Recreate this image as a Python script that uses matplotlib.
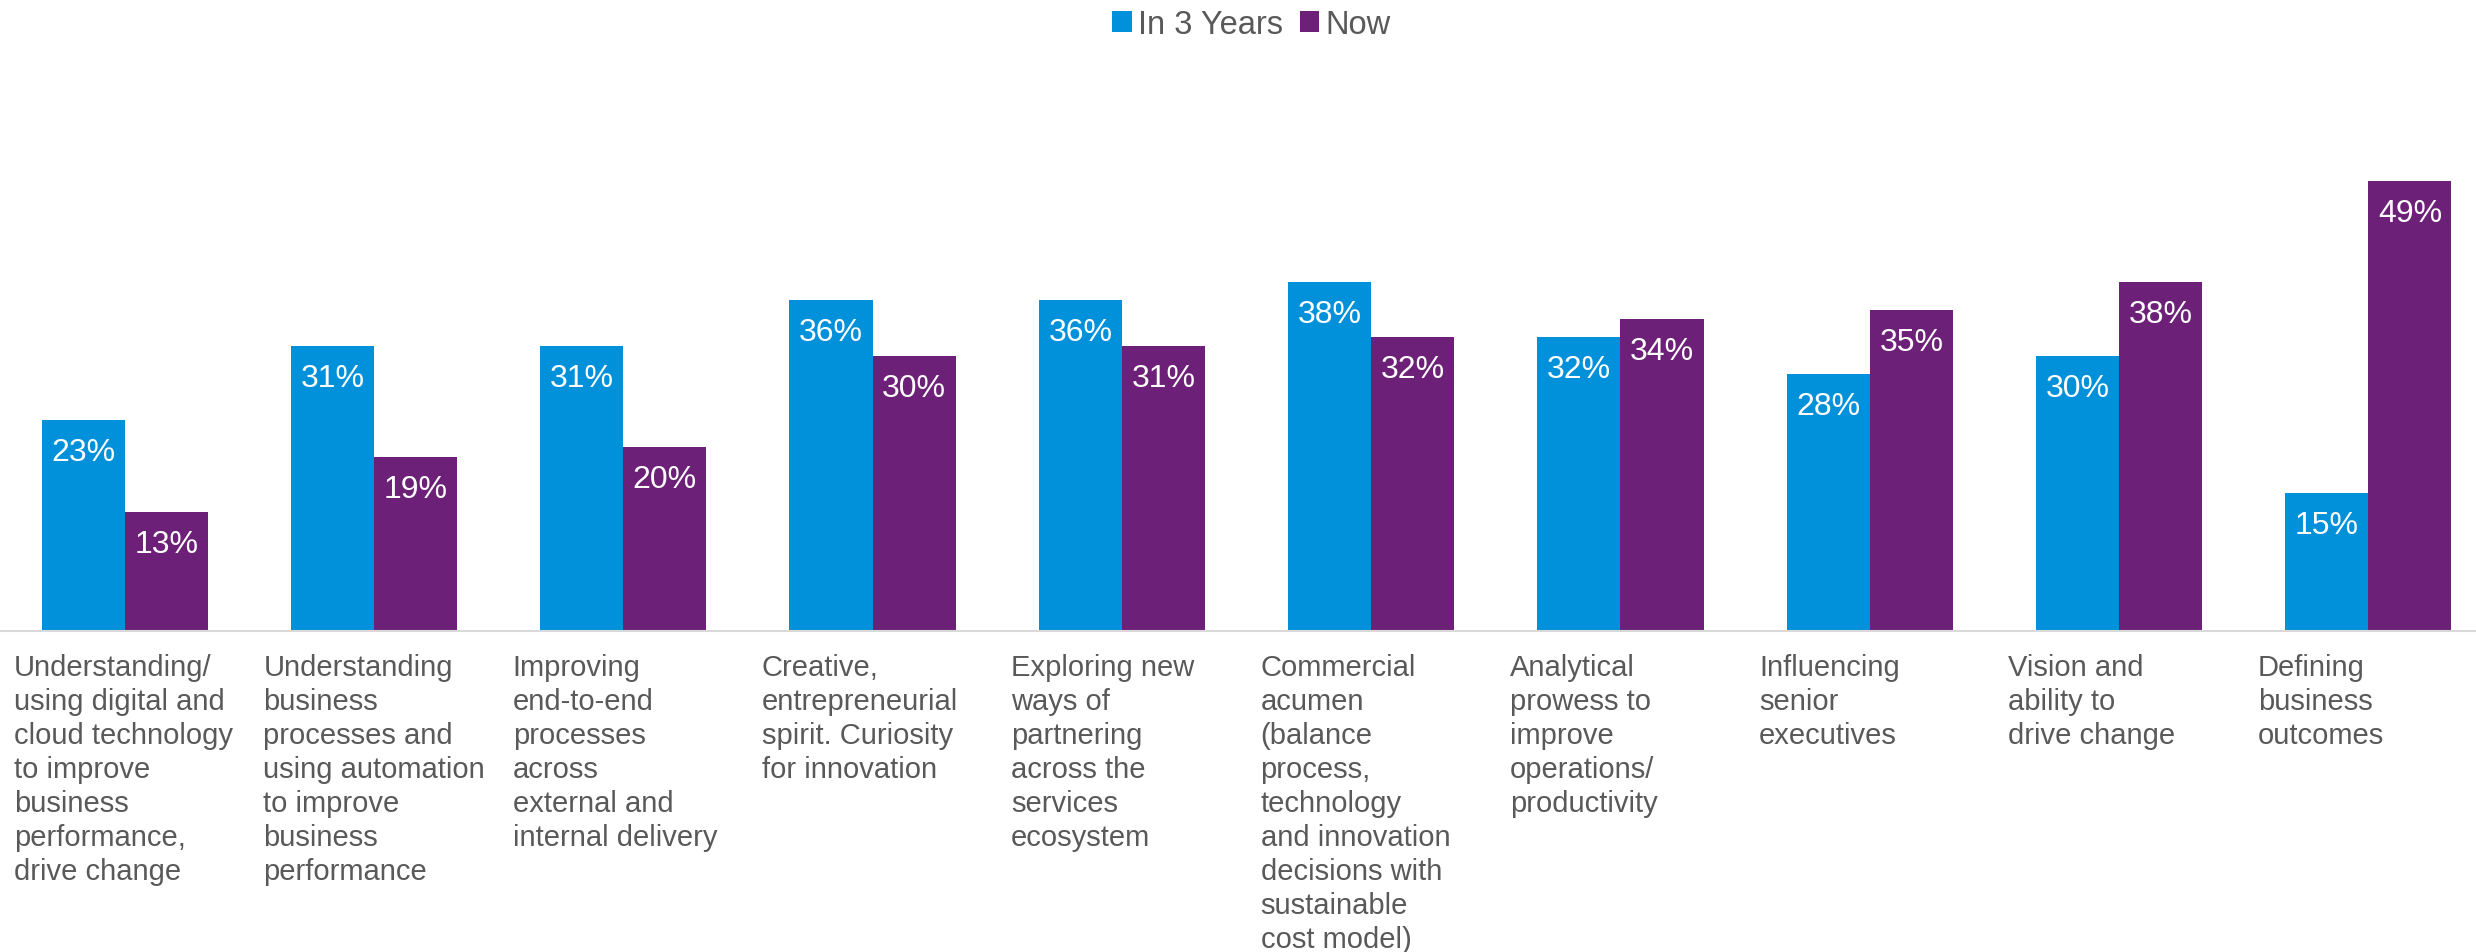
import matplotlib.pyplot as plt
import numpy as np

plt.rcParams['font.family'] = ['Liberation Sans', 'DejaVu Sans']

categories = [
    "Understanding/\nusing digital and\ncloud technology\nto improve\nbusiness\nperformance,\ndrive change",
    "Understanding\nbusiness\nprocesses and\nusing automation\nto improve\nbusiness\nperformance",
    "Improving\nend-to-end\nprocesses\nacross\nexternal and\ninternal delivery",
    "Creative,\nentrepreneurial\nspirit. Curiosity\nfor innovation",
    "Exploring new\nways of\npartnering\nacross the\nservices\necosystem",
    "Commercial\nacumen\n(balance\nprocess,\ntechnology\nand innovation\ndecisions with\nsustainable\ncost model)",
    "Analytical\nprowess to\nimprove\noperations/\nproductivity",
    "Influencing\nsenior\nexecutives",
    "Vision and\nability to\ndrive change",
    "Defining\nbusiness\noutcomes",
]
in_3_years = [23, 31, 31, 36, 36, 38, 32, 28, 30, 15]
now = [13, 19, 20, 30, 31, 32, 34, 35, 38, 49]
series_names = ["In 3 Years", "Now"]

BLUE = "#0091DA"
PURPLE = "#6D2077"
TEXT = "#595959"

W, H = 2476, 953
fig = plt.figure(figsize=(W / 100, H / 100), dpi=100)
# axes geometry in pixels
ax = fig.add_axes([0, 321 / H, 2493 / W, 505 / H])

x = np.arange(len(categories))
bw = 1 / 3
b1 = ax.bar(x - bw / 2, in_3_years, bw, color=BLUE, label=series_names[0])
b2 = ax.bar(x + bw / 2, now, bw, color=PURPLE, label=series_names[1])

ax.set_xlim(-0.5, len(categories) - 0.5)
ax.set_ylim(0, 55)

for bars, vals in ((b1, in_3_years), (b2, now)):
    for rect, v in zip(bars, vals):
        ax.annotate(f"{v}%", xy=(rect.get_x() + rect.get_width() / 2, v),
                    xytext=(0, -32), textcoords='offset pixels',
                    ha='center', va='center', color='white', fontsize=23)

for i, lab in enumerate(categories):
    ax.annotate(lab, xy=(i - 0.5, 0), xycoords=('data', 'axes fraction'),
                xytext=(14, -22), textcoords='offset pixels',
                ha='left', va='top', color=TEXT, fontsize=21,
                linespacing=1.27)

for s in ['top', 'right', 'left']:
    ax.spines[s].set_visible(False)
ax.spines['bottom'].set_color('#D9D9D9')
ax.spines['bottom'].set_linewidth(1.5)
ax.set_xticks([])
ax.set_yticks([])

fig.legend(loc='upper center', bbox_to_anchor=(0.5055, 1.02), ncol=2,
           frameon=False, fontsize=23.5, handlelength=0.6, handleheight=0.6,
           handletextpad=0.2, columnspacing=0.5, labelcolor=TEXT)

fig.savefig("out.png", dpi=100)
